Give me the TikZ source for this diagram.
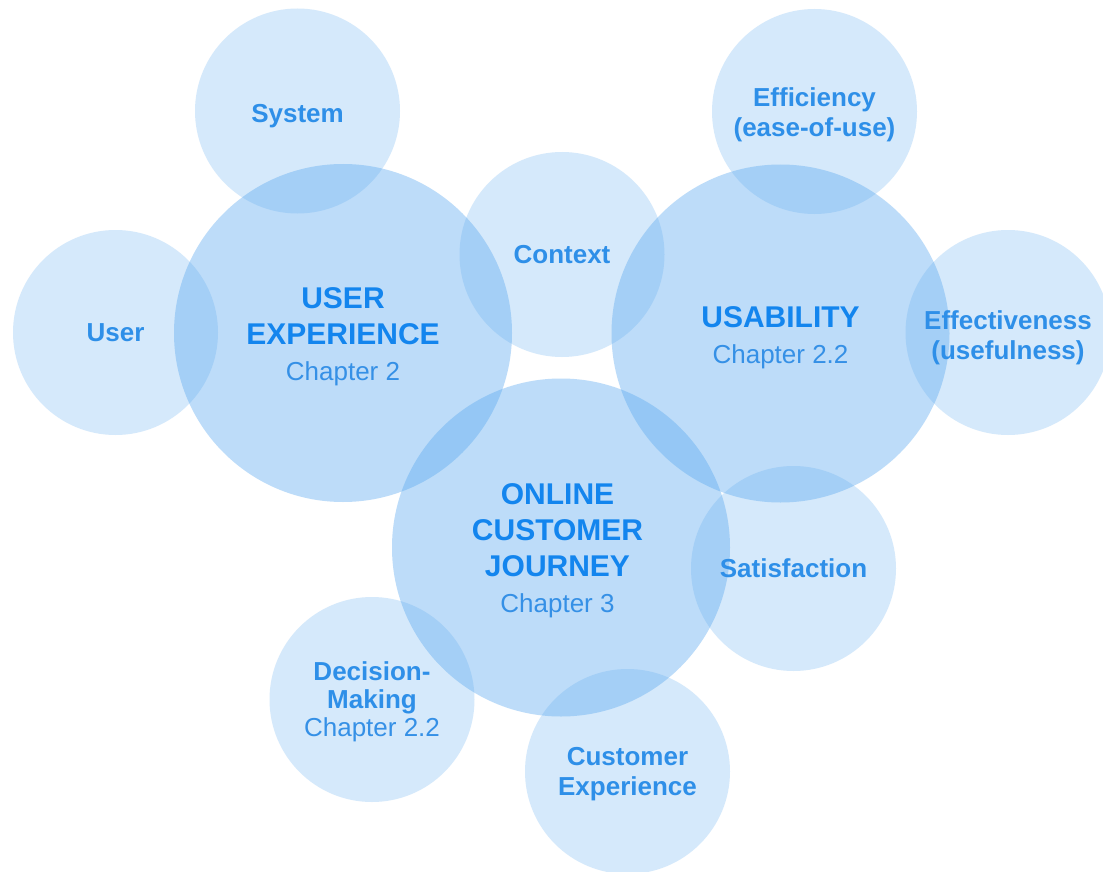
\documentclass[tikz,border=0pt]{standalone}
\usepackage{fontspec}
\setmainfont{Liberation Sans}
\definecolor{bubblefill}{RGB}{90,169,240}
\definecolor{titleblue}{RGB}{19,133,238}
\definecolor{labelblue}{RGB}{46,143,232}
\definecolor{chapblue}{RGB}{53,144,230}
\newcommand\chapline{\mdseries\fontsize{26}{36}\selectfont\color{chapblue}}
\begin{document}
\begin{tikzpicture}[x=1pt,y=-1pt,
  bubble/.style={circle, inner sep=0pt, fill=bubblefill, draw=none},
  minorbubble/.style={bubble, minimum size=205pt, fill opacity=0.25},
  majorbubble/.style={bubble, minimum size=338pt, fill opacity=0.4},
  minorlabel/.style={inner sep=0pt, align=center, text=labelblue,
    font=\bfseries\fontsize{26}{30}\selectfont},
  majorlabel/.style={inner sep=0pt, align=center, text=titleblue,
    font=\bfseries\fontsize{30}{36}\selectfont}]
\useasboundingbox (0,0) rectangle (1103,872);
\fill[white] (0,0) rectangle (1103,872);
\clip (0,0) rectangle (1103,872);

% large topic circles
\node[majorbubble] (ux) at (343,333) {};
\node[majorbubble] (usability) at (780.5,333.5) {};
\node[majorbubble] (ocj) at (561,547.5) {};

% small aspect circles
\node[minorbubble] (system) at (297.5,111) {};
\node[minorbubble] (user) at (115.5,332.5) {};
\node[minorbubble] (context) at (562,254.5) {};
\node[minorbubble] (efficiency) at (814.5,111.5) {};
\node[minorbubble] (effectiveness) at (1008,332.5) {};
\node[minorbubble] (satisfaction) at (793.5,568.5) {};
\node[minorbubble] (decision) at (372,699.5) {};
\node[minorbubble] (cx) at (627.5,771.5) {};

% labels, drawn on top of all fills
\node[majorlabel] (ux-label) at ([yshift=-4]ux) {USER\\EXPERIENCE\\{\chapline Chapter 2}};
\node[majorlabel] (usability-label) at ([yshift=-4]usability) {USABILITY\\{\chapline Chapter 2.2}};
\node[majorlabel] (ocj-label) at ([xshift=-3.5,yshift=-3]ocj) {ONLINE\\CUSTOMER\\JOURNEY\\{\chapline Chapter 3}};

\node[minorlabel] (system-label) at ([yshift=-5]system) {System};
\node[minorlabel] (user-label) at (user) {User};
\node[minorlabel] (context-label) at (context) {Context};
\node[minorlabel] (efficiency-label) at ([yshift=-3]efficiency) {Efficiency\\(ease-of-use)};
\node[minorlabel] (effectiveness-label) at ([yshift=-5]effectiveness) {Effectiveness\\(usefulness)};
\node[minorlabel] (satisfaction-label) at (satisfaction) {Satisfaction};
\node[minorlabel, font=\bfseries\fontsize{26}{28}\selectfont] (decision-label) at ([yshift=-2.5]decision)
  {Decision-\\Making\\{\mdseries\color{chapblue}Chapter 2.2}};
\node[minorlabel] (cx-label) at ([yshift=-3]cx) {Customer\\Experience};
\end{tikzpicture}
\end{document}
